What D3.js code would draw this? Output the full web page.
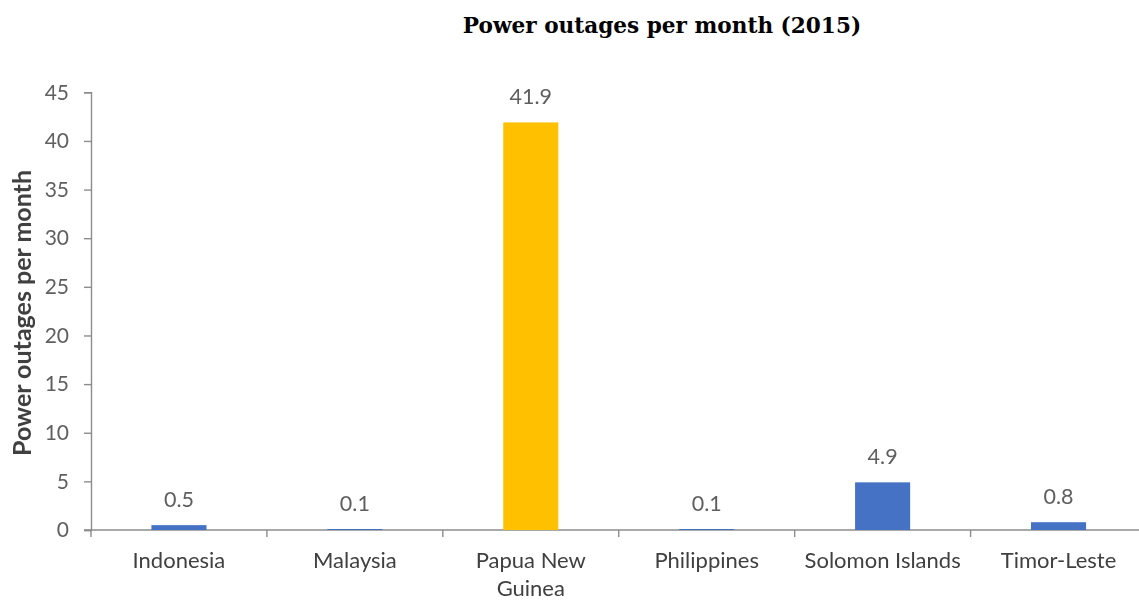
<!DOCTYPE html>
<html>
<head>
<meta charset="utf-8">
<script src="https://cdn.jsdelivr.net/npm/d3@7"></script>
<style>
  html, body { margin: 0; padding: 0; background: #ffffff; }
  svg { display: block; }
</style>
</head>
<body>
<svg id="chart" width="1139" height="600"></svg>
<script>
// Monthly power outages by country, 2015
const countries = ["Indonesia", "Malaysia", "Papua New Guinea", "Philippines", "Solomon Islands", "Timor-Leste"];
const categoryLines = [["Indonesia"], ["Malaysia"], ["Papua New", "Guinea"], ["Philippines"], ["Solomon Islands"], ["Timor-Leste"]];
const outages = [0.5, 0.1, 41.9, 0.1, 4.9, 0.8];
const highlighted = ["Papua New Guinea"];
const yTicks = [0, 5, 10, 15, 20, 25, 30, 35, 40, 45];

(function () {
  const svg = d3.select("#chart");
  const W = 1139;
  const plotLeft = 91, plotRight = 1146.5, plotTop = 92.3, plotBottom = 530;
  const textGray = "#5f5f5f";
  const darkGray = "#3f3f3f";
  const axisGray = "#8c8c8c";
  const font = "Lato, 'Open Sans', sans-serif";

  // soft rendering of the plot area
  const defs = svg.append("defs");
  defs.append("filter").attr("id", "soft")
    .append("feGaussianBlur").attr("stdDeviation", 0.6);

  svg.append("text")
    .attr("x", 662).attr("y", 33)
    .attr("text-anchor", "middle")
    .attr("font-family", "'DejaVu Serif', serif")
    .attr("font-weight", "bold")
    .attr("font-size", 21.6)
    .attr("fill", "#000")
    .text("Power outages per month (2015)");

  const plot = svg.append("g").attr("filter", "url(#soft)");

  const x = d3.scaleBand().domain(countries).range([plotLeft, plotRight])
    .paddingInner(0.687).paddingOuter(0.3435);
  const step = x.step();
  const y = d3.scaleLinear().domain([0, 45]).range([plotBottom, plotTop]);

  // y axis
  const yAxis = d3.axisLeft(y).tickValues(yTicks).tickSize(7).tickPadding(15);
  const yg = plot.append("g").attr("transform", `translate(${plotLeft},0)`).call(yAxis);
  yg.select(".domain").attr("stroke", axisGray).attr("stroke-width", 1.4);
  yg.selectAll(".tick line").attr("stroke", axisGray).attr("stroke-width", 1.4);
  yg.selectAll(".tick text")
    .attr("font-family", font).attr("font-size", 21).attr("fill", textGray);

  // x axis baseline and boundary ticks
  const xg = plot.append("g");
  xg.append("line")
    .attr("x1", plotLeft - 7).attr("x2", W)
    .attr("y1", plotBottom).attr("y2", plotBottom)
    .attr("stroke", axisGray).attr("stroke-width", 1.4);
  xg.selectAll("line.bt").data(d3.range(countries.length)).enter().append("line")
    .attr("class", "bt")
    .attr("x1", i => plotLeft + i * step).attr("x2", i => plotLeft + i * step)
    .attr("y1", plotBottom).attr("y2", plotBottom + 7)
    .attr("stroke", axisGray).attr("stroke-width", 1.4);

  // bars, drawn over the baseline so the smallest values stay visible
  plot.selectAll("rect.bar").data(countries).enter().append("rect")
    .attr("class", "bar")
    .attr("x", d => x(d))
    .attr("width", x.bandwidth())
    .attr("y", (d, i) => y(outages[i]))
    .attr("height", (d, i) => plotBottom - y(outages[i]))
    .attr("fill", d => highlighted.includes(d) ? "#FFC000" : "#4472C4");

  // category labels
  const labels = xg.selectAll("text.cat").data(countries).enter().append("text")
    .attr("class", "cat")
    .attr("x", d => x(d) + x.bandwidth() / 2)
    .attr("y", 568)
    .attr("text-anchor", "middle")
    .attr("font-family", font).attr("font-size", 22).attr("fill", darkGray);
  labels.each(function (d, i) {
    const t = d3.select(this);
    categoryLines[i].forEach((line, k) => {
      t.append("tspan").attr("x", x(d) + x.bandwidth() / 2)
        .attr("dy", k === 0 ? 0 : 28).text(line);
    });
  });

  // value labels
  plot.selectAll("text.val").data(countries).enter().append("text")
    .attr("class", "val")
    .attr("x", d => x(d) + x.bandwidth() / 2)
    .attr("y", (d, i) => y(outages[i]) - 18)
    .attr("text-anchor", "middle")
    .attr("font-family", font).attr("font-size", 21.5).attr("fill", textGray)
    .text((d, i) => outages[i]);

  // y axis title
  plot.append("text")
    .attr("transform", "translate(31,313) rotate(-90)")
    .attr("text-anchor", "middle")
    .attr("font-family", font).attr("font-weight", "bold")
    .attr("font-size", 25).attr("fill", darkGray)
    .text("Power outages per month");
})();
</script>
</body>
</html>
